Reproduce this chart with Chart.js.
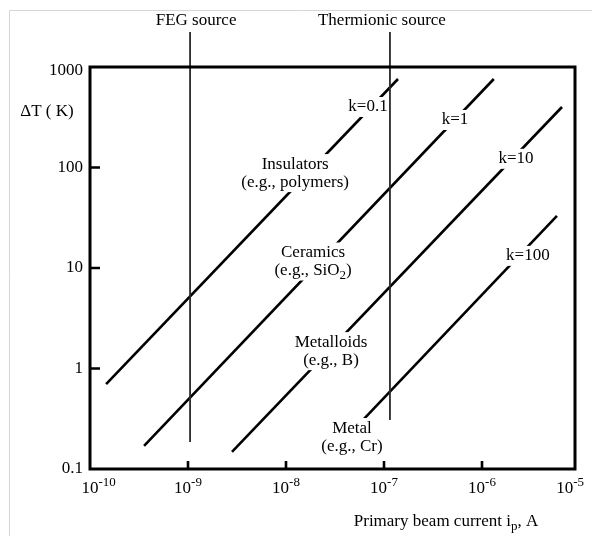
<!DOCTYPE html>
<html>
<head>
<meta charset="utf-8">
<script src="https://cdn.jsdelivr.net/npm/chart.js@4.4.1/dist/chart.umd.min.js"></script>
<style>
  html, body { margin: 0; padding: 0; background: #fff; }
  canvas { display: block; }
</style>
</head>
<body>
<canvas id="chart" width="592" height="536"></canvas>
<script>
/* --------------- Data: one line per thermal conductivity k --------------------- */
const kLabels = ["k=0.1", "k=1", "k=10", "k=100"];
const startCurrent = [1.46e-10, 3.56e-10, 2.81e-9, 6.25e-8];
const startDeltaT = [0.70, 0.17, 0.148, 0.315];
const endCurrent = [1.39e-7, 1.32e-6, 6.55e-6, 5.82e-6];
const endDeltaT = [760, 760, 400, 33];

/* --------------- Beam sources (vertical lines) --------------------- */
const sourceNames = ["FEG source", "Thermionic source"];
const sourceCurrent = [1.05e-9, 1.15e-7];
const sourceTop = [2230, 2230];
const sourceBottom = [0.186, 0.307];

/* --------------- Ticks --------------------- */
const xTicks = [1e-10, 1e-9, 1e-8, 1e-7, 1e-6, 1e-5];
const xTickExp = ["-10", "-9", "-8", "-7", "-6", "-5"];
const yTicks = [0.1, 1, 10, 100, 1000];
const yTickLabels = ["0.1", "1", "10", "100", "1000"];

/* --------------- Material labels --------------------- */
const materials = ["Insulators", "Ceramics", "Metalloids", "Metal"];
const examples = [
  [["(e.g., polymers)"]],
  [["(e.g., SiO"], ["2", "sub"], [")"]],
  [["(e.g., B)"]],
  [["(e.g., Cr)"]],
];
// where each label block sits, in data units (current, deltaT)
const materialAt = [[1.24e-8, 88], [1.89e-8, 11.6], [2.88e-8, 1.49], [4.71e-8, 0.208]];
const kLabelAt = [[6.87e-8, 400], [5.3e-7, 297], [2.22e-6, 122], [2.94e-6, 13.2]];

const SERIF = "'Liberation Serif', 'Times New Roman', serif";
const FONT = "17px " + SERIF;
const SMALL = "13px " + SERIF;
const INK = "#000";

/* --------------- Datasets --------------------- */
const datasets = [];
kLabels.forEach((k, i) => {
  datasets.push({
    label: k,
    data: [{ x: startCurrent[i], y: startDeltaT[i] }, { x: endCurrent[i], y: endDeltaT[i] }],
    borderColor: "#000",
    borderWidth: 2.6,
    showLine: true,
    pointRadius: 0,
    order: 1,
  });
});
sourceNames.forEach((s, i) => {
  datasets.push({
    label: s,
    isSource: true,
    data: [{ x: sourceCurrent[i], y: sourceTop[i] }, { x: sourceCurrent[i], y: sourceBottom[i] }],
    borderColor: "#2a2a2a",
    borderWidth: 1.8,
    showLine: true,
    pointRadius: 0,
    clip: false,
    order: 0,
  });
});

/* --------------- Text helpers --------------------- */
function partWidth(ctx, parts) {
  let w = 0;
  for (const p of parts) {
    ctx.font = p[1] ? SMALL : FONT;
    w += ctx.measureText(p[0]).width;
  }
  return w;
}
function drawParts(ctx, parts, cx, cy) {
  let x = cx - partWidth(ctx, parts) / 2;
  ctx.textAlign = "left";
  ctx.textBaseline = "middle";
  for (const p of parts) {
    ctx.font = p[1] ? SMALL : FONT;
    const dy = p[1] === "sub" ? 5 : p[1] === "sup" ? -6 : 0;
    ctx.fillText(p[0], x, cy + dy);
    x += ctx.measureText(p[0]).width;
  }
}
function drawBlock(ctx, lines, cx, cy) {
  const lh = 18;
  const top = cy - (lines.length * lh) / 2;
  let maxW = 0;
  for (const l of lines) maxW = Math.max(maxW, partWidth(ctx, l));
  ctx.fillStyle = "#fff";
  ctx.fillRect(cx - maxW / 2 - 2, top - 1, maxW + 4, lines.length * lh + 2);
  ctx.fillStyle = INK;
  lines.forEach((l, i) => drawParts(ctx, l, cx, top + lh * i + lh / 2));
}

/* --------------- Figure plugin --------------------- */
const figurePlugin = {
  id: "figure",
  beforeDraw(chart) {
    const ctx = chart.ctx;
    ctx.save();
    ctx.fillStyle = "#fff";
    ctx.fillRect(0, 0, chart.width, chart.height);
    ctx.strokeStyle = "#d6d6d6";
    ctx.lineWidth = 1;
    ctx.beginPath();
    ctx.moveTo(9.5, chart.height);
    ctx.lineTo(9.5, 10.5);
    ctx.lineTo(chart.width, 10.5);
    ctx.stroke();
    ctx.restore();
    chart.$labelsDone = false;
  },
  beforeDatasetDraw(chart, args) {
    if (!chart.data.datasets[args.index].isSource || chart.$labelsDone) return;
    chart.$labelsDone = true;
    const ctx = chart.ctx;
    const xs = chart.scales.x, ys = chart.scales.y;
    ctx.save();
    materials.forEach((m, i) => {
      drawBlock(ctx, [[[m]], examples[i]], xs.getPixelForValue(materialAt[i][0]), ys.getPixelForValue(materialAt[i][1]));
    });
    kLabels.forEach((k, i) => {
      drawBlock(ctx, [[[k]]], xs.getPixelForValue(kLabelAt[i][0]), ys.getPixelForValue(kLabelAt[i][1]));
    });
    ctx.restore();
  },
  afterDatasetsDraw(chart) {
    const ctx = chart.ctx;
    const a = chart.chartArea;
    const xs = chart.scales.x, ys = chart.scales.y;
    ctx.save();
    ctx.strokeStyle = "#000";
    ctx.lineWidth = 3;
    ctx.strokeRect(a.left, a.top, a.right - a.left, a.bottom - a.top);

    // inward tick marks at inner decades
    ctx.lineWidth = 2.6;
    ctx.beginPath();
    xTicks.slice(1, -1).forEach(v => {
      const x = xs.getPixelForValue(v);
      ctx.moveTo(x, a.bottom);
      ctx.lineTo(x, a.bottom - 8);
    });
    yTicks.slice(1, -1).forEach(v => {
      const y = ys.getPixelForValue(v);
      ctx.moveTo(a.left, y);
      ctx.lineTo(a.left + 10, y);
    });
    ctx.stroke();

    ctx.fillStyle = INK;
    ctx.textBaseline = "middle";
    // y tick labels
    ctx.font = FONT;
    ctx.textAlign = "right";
    yTicks.forEach((v, i) => {
      ctx.fillText(yTickLabels[i], a.left - 7, ys.getPixelForValue(v) + (i === yTicks.length - 1 ? 4 : 0));
    });
    // x tick labels: 10 with superscript exponent, whole label centred on the tick
    xTicks.forEach((v, i) => {
      ctx.font = FONT;
      const wb = ctx.measureText("10").width;
      ctx.font = SMALL;
      const we = ctx.measureText(xTickExp[i]).width;
      let left = xs.getPixelForValue(v) - (wb + we) / 2;
      if (i === 0) left = xs.getPixelForValue(v) - wb / 2;
      left = Math.min(left, chart.width - 8 - wb - we);
      ctx.textAlign = "left";
      ctx.font = FONT;
      ctx.fillText("10", left, a.bottom + 20);
      ctx.font = SMALL;
      ctx.fillText(xTickExp[i], left + wb, a.bottom + 14);
    });

    // axis titles
    drawParts(ctx, [["\u0394T ( K)"]], 47, 112);
    drawParts(ctx, [["Primary beam current i"], ["p", "sub"], [", A"]], 446, 522);

    // source titles above the frame
    const offsets = [6, -8];
    sourceNames.forEach((s, i) => {
      drawParts(ctx, [[s]], xs.getPixelForValue(sourceCurrent[i]) + offsets[i], 21);
    });
    ctx.restore();
  },
};

/* --------------- Chart --------------------- */
const chart = new Chart(document.getElementById("chart"), {
  type: "scatter",
  data: { datasets },
  plugins: [figurePlugin],
  options: {
    responsive: false,
    animation: false,
    layout: { padding: { left: 90, top: 67, right: 17, bottom: 67 } },
    plugins: { legend: { display: false }, tooltip: { enabled: false } },
    scales: {
      x: { type: "logarithmic", min: 1e-10, max: Math.pow(10, -10 + 485 / 98), display: false },
      y: { type: "logarithmic", min: 0.1, max: 1000, display: false },
    },
  },
});
</script>
</body>
</html>
